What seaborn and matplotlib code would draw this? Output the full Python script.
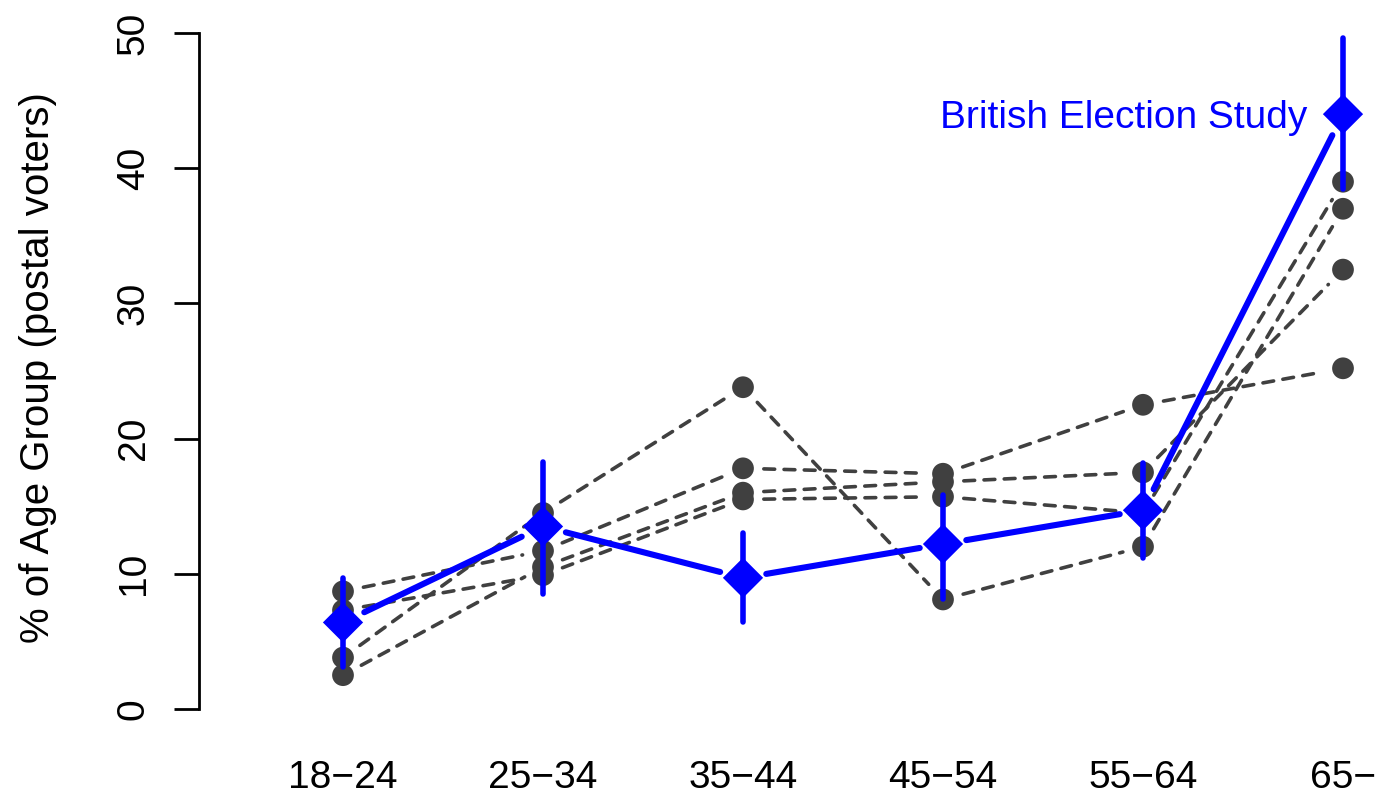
import numpy as np
import pandas as pd
import matplotlib
matplotlib.use("Agg")
import matplotlib.pyplot as plt
import seaborn as sns

# Age groups on the x axis
ages = ["18\u221224", "25\u221234", "35\u221244", "45\u221254", "55\u221264", "65\u2212"]

# Share of each age group voting by post, four survey series (grey)
poll_a = [3.8, 14.5, 23.8, 8.1, 12.0, 37.0]
poll_b = [8.7, 11.7, 17.8, 17.4, 22.5, 25.2]
poll_c = [7.3, 9.9, 15.5, 15.7, 14.5, 39.0]
poll_d = [2.5, 10.5, 16.0, 16.8, 17.5, 32.5]

# British Election Study estimate with its interval (blue)
bes = [6.4, 13.5, 9.7, 12.2, 14.7, 44.0]
bes_lo = [3.1, 8.5, 6.4, 8.1, 11.2, 38.5]
bes_hi = [9.7, 18.3, 13.0, 15.8, 18.2, 49.6]

yticks = [0, 10, 20, 30, 40, 50]

GREY = "#404040"
BLUE = "#0000FF"

sns.set_theme(style="white")
plt.rcParams["font.family"] = ["Liberation Sans", "DejaVu Sans"]
plt.rcParams["text.color"] = "black"
plt.rcParams["axes.labelcolor"] = "black"
plt.rcParams["xtick.color"] = "black"
plt.rcParams["ytick.color"] = "black"

pos = np.arange(len(ages))
polls = {"a": poll_a, "b": poll_b, "c": poll_c, "d": poll_d}
long = pd.DataFrame(
    [(k, p, v) for k, vals in polls.items() for p, v in zip(pos, vals)],
    columns=["series", "pos", "pct"],
)
bes_df = pd.DataFrame({"pos": pos, "pct": bes, "lo": bes_lo, "hi": bes_hi})

fig = plt.figure(figsize=(13.76, 8.08), dpi=100)
ax = fig.add_axes([199 / 1376, 72 / 808, 1 - 199 / 1376, 730 / 808])


def gapped_line(xs, ys, color, lw, ls, gap, z):
    """Connect successive points, leaving a gap around each point."""
    for i in range(len(xs) - 1):
        ax.annotate(
            "", xy=(xs[i + 1], ys[i + 1]), xytext=(xs[i], ys[i]),
            arrowprops=dict(arrowstyle="-", color=color, lw=lw, linestyle=ls,
                            shrinkA=gap, shrinkB=gap, capstyle="round"),
            zorder=z, annotation_clip=False,
        )


# grey survey series: dashed connectors and dots
for vals in polls.values():
    gapped_line(pos, vals, GREY, 2.6, (0, (3.0, 2.6)), 15, 2)
sns.scatterplot(data=long, x="pos", y="pct", hue="series",
                palette=[GREY] * 4, s=245, edgecolor="none",
                legend=False, ax=ax, zorder=3)

# BES: interval bars, connecting line and diamonds
ax.vlines(bes_df["pos"], bes_df["lo"], bes_df["hi"], color=BLUE, lw=4.0,
          zorder=4, capstyle="round")
gapped_line(pos, bes, BLUE, 4.4, "-", 17, 4)
sns.scatterplot(data=bes_df, x="pos", y="pct", marker="D", color=BLUE,
                s=420, edgecolor="none", legend=False, ax=ax, zorder=5)

ax.annotate("British Election Study", xy=(pos[-1], bes[-1]),
            xytext=(-26, -3), textcoords="offset points",
            ha="right", va="center", color=BLUE, fontsize=28, zorder=6)

ax.set_xlim(-0.72, 5.165)
ax.set_ylim(-2, 52)

ax.set_xticks(pos)
ax.set_xticklabels(ages, fontsize=28)
ax.set_yticks(yticks)
ax.set_yticklabels([str(t) for t in yticks], fontsize=28, rotation=90,
                   va="center")

ax.tick_params(axis="x", length=0, pad=17)
ax.tick_params(axis="y", length=18, width=2, pad=16, left=True,
               color="black")

for side in ["top", "right", "bottom"]:
    ax.spines[side].set_visible(False)
ax.spines["left"].set_bounds(0, 50)
ax.spines["left"].set_linewidth(2)
ax.spines["left"].set_color("black")

ax.set_xlabel("")
ax.set_ylabel("% of Age Group (postal voters)", fontsize=29)
ax.yaxis.set_label_coords(-0.1206, 0.505)

fig.savefig("out.png", dpi=100)
